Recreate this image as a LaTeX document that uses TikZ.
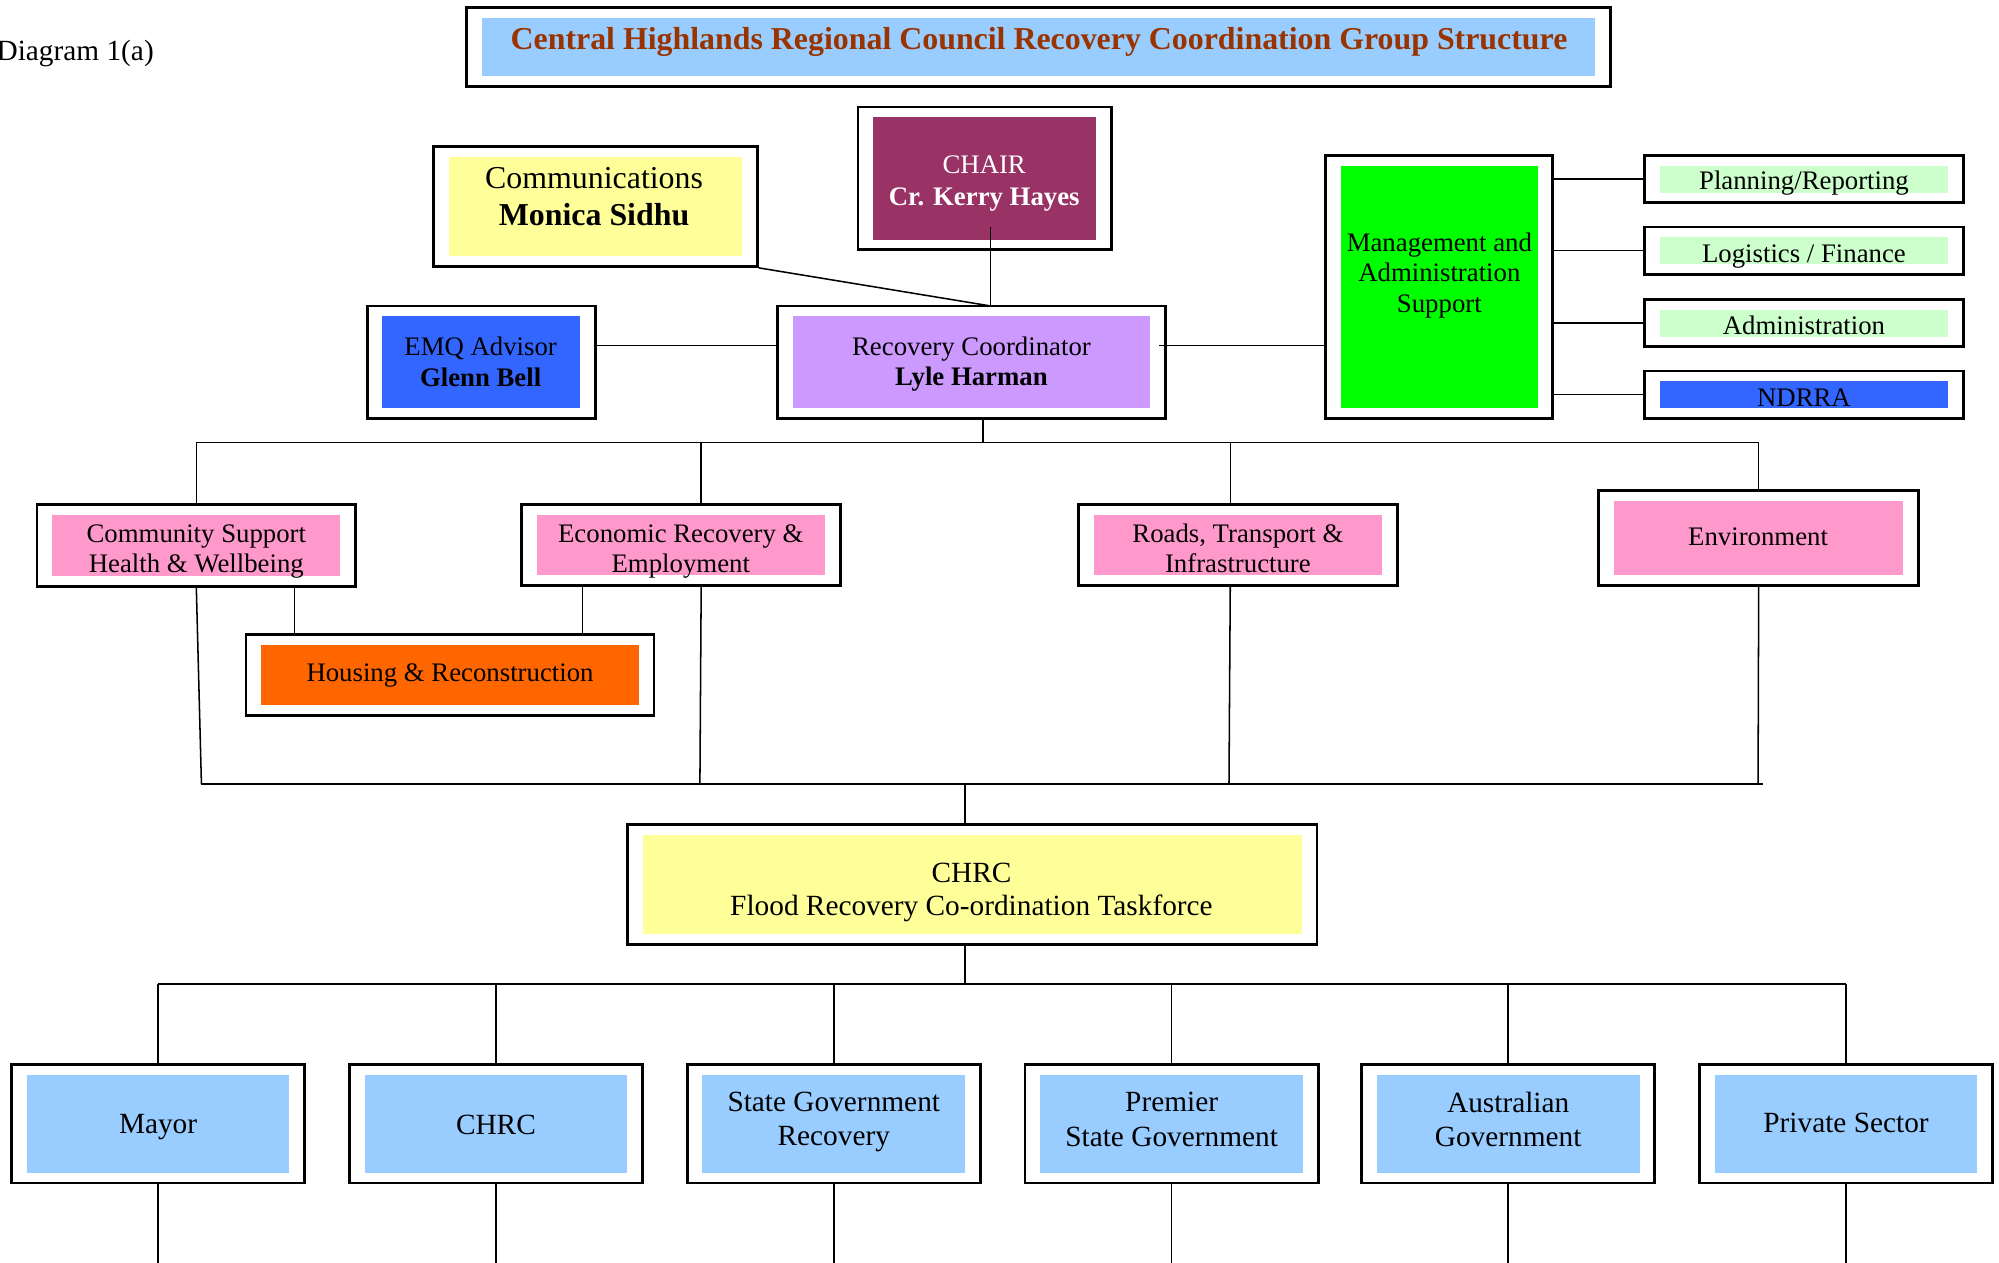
\documentclass[tikz,border=0pt]{standalone}
\usepackage{fontspec}
\setmainfont{Liberation Serif}
\usetikzlibrary{fit,calc}
\definecolor{titlered}{HTML}{993300}
\definecolor{lightblue}{HTML}{99CCFF}
\definecolor{chairc}{HTML}{993366}
\definecolor{paleyellow}{HTML}{FFFF99}
\definecolor{emqblue}{HTML}{3366FF}
\definecolor{lilac}{HTML}{CC99FF}
\definecolor{brightgreen}{HTML}{00FF00}
\definecolor{palegreen}{HTML}{CCFFCC}
\definecolor{pinkc}{HTML}{FF99CC}
\definecolor{orangec}{HTML}{FF6600}
\newcommand\obox[6]{%
  \node[outerbox, fit={(#2,#3)(#4,#5)}] (#1) {};
  \node[innerfill, fill=#6, fit={({#2+12},{#3+8})({#4-12},{#5-8})}] (#1-in) {};
}
\begin{document}
\begin{tikzpicture}[x=0.5pt, y=-0.5pt,
  outerbox/.style={draw=black, line width=1.1pt, fill=white, inner sep=0pt},
  innerfill/.style={draw=none, inner sep=0pt},
  conn/.style={draw=black, line width=0.6pt},
  txt/.style={align=center, inner sep=0pt, font=\fontsize{10.5}{11.5}\selectfont},
  txtb/.style={align=center, inner sep=0pt, font=\fontsize{11.5}{13.5}\selectfont}]
\useasboundingbox (0,0) rectangle (1568,990);

% Diagram label
\node[anchor=east, inner sep=0pt, font=\fontsize{11.5}{13}\selectfont] (diag) at (121,42) {Diagram 1(a)};

% title
\obox{title}{366}{6}{1263}{68}{lightblue}
\node[inner sep=0pt, font=\fontsize{12.5}{14}\selectfont\bfseries, text=titlered] (title-t) at (815,33)
  {Central Highlands Regional Council Recovery Coordination Group Structure};

% chair
\obox{chair}{673}{84}{872}{196}{chairc}
\node[txt, text=white, font=\fontsize{10.5}{12.5}\selectfont] (chair-t) at (772,144) {CHAIR\\\textbf{Cr. Kerry Hayes}};

% communications
\obox{comm}{340}{115}{594}{209}{paleyellow}
\node[txt, font=\fontsize{12.5}{14.5}\selectfont] (comm-t) at (466,154) {Communications\\\textbf{Monica Sidhu}};

% EMQ
\obox{emq}{288}{240}{467}{328}{emqblue}
\node[txt, font=\fontsize{10.5}{12}\selectfont] (emq-t) at (377,284) {EMQ Advisor\\\textbf{Glenn Bell}};

% Recovery coordinator
\obox{rc}{610}{240}{914}{328}{lilac}
\node[txt, font=\fontsize{10.5}{12}\selectfont] (rc-t) at (762,285.5) {Recovery Coordinator\\\textbf{Lyle Harman}};

% Management
\obox{mgmt}{1040}{122}{1218}{328}{brightgreen}
\node[txt, font=\fontsize{10.5}{12}\selectfont] (mgmt-t) at (1129,216) {Management and\\Administration\\Support};

% right column
\obox{plan}{1290}{122}{1540}{159}{palegreen}
\node[txt] (plan-t) at (1415,144) {Planning/Reporting};
\obox{logi}{1290}{178}{1540}{215}{palegreen}
\node[txt] (logi-t) at (1415,201) {Logistics / Finance};
\obox{admin}{1290}{235}{1540}{272}{palegreen}
\node[txt] (admin-t) at (1415,255) {Administration};
\obox{ndrra}{1290}{291}{1540}{328}{emqblue}
\node[txt] (ndrra-t) at (1415,312) {NDRRA};

% second tier
\obox{comsup}{29}{396}{279}{460}{pinkc}
\node[txt] (comsup-t) at (154,432.5) {Community Support\\Health \& Wellbeing};
\obox{econ}{409}{396}{659}{459}{pinkc}
\node[txt] (econ-t) at (534,432.5) {Economic Recovery \&\\Employment};
\obox{roads}{846}{396}{1096}{459}{pinkc}
\node[txt] (roads-t) at (971,430) {Roads, Transport \&\\Infrastructure};
\obox{env}{1254}{385}{1505}{459}{pinkc}
\node[txt] (env-t) at (1379,421) {Environment};
\obox{house}{193}{498}{513}{561}{orangec}
\node[txt] (house-t) at (353,530) {Housing \& Reconstruction};

% taskforce
\obox{tf}{492}{647}{1033}{741}{paleyellow}
\node[txtb, font=\fontsize{11.5}{13}\selectfont] (tf-t) at (762,700) {CHRC\\Flood Recovery Co-ordination Taskforce};

% bottom row
\obox{mayor}{9}{835}{239}{928}{lightblue}
\node[txtb] (mayor-t) at (124,884) {Mayor};
\obox{chrc}{274}{835}{504}{928}{lightblue}
\node[txtb] (chrc-t) at (389,882) {CHRC};
\obox{sgr}{539}{835}{769}{928}{lightblue}
\node[txtb] (sgr-t) at (654,880) {State Government\\Recovery};
\obox{prem}{804}{835}{1034}{928}{lightblue}
\node[txtb] (prem-t) at (919,878) {Premier\\State Government};
\obox{ausg}{1068}{835}{1298}{928}{lightblue}
\node[txtb] (ausg-t) at (1183,878) {Australian\\Government};
\obox{priv}{1333}{835}{1563}{928}{lightblue}
\node[txtb] (priv-t) at (1448,881) {Private Sector};

% helper coordinates
\coordinate (cj) at (777,240);
\coordinate (ct) at (777,178);
\coordinate (yemq) at (0,271);
\coordinate (rcd) at (771,328);
\coordinate (b1) at (0,347);
\coordinate (x550) at (550,0);
\coordinate (x965) at (965,0);
\coordinate (hx1) at (231,0);
\coordinate (hx2) at (457,0);
\coordinate (b2a) at (158,615);
\coordinate (b2b) at (549,615);
\coordinate (b2c) at (964,615);
\coordinate (b2d) at (1379,615);
\coordinate (b2e) at (1383,615);
\coordinate (x757) at (757,0);
\coordinate (b2) at (0,615);
\coordinate (b3) at (0,772);

% connectors (top)
\draw[conn] (comm.south east) -- (cj);
\draw[conn] (ct) -- (cj);
\draw[conn] (emq.east |- yemq) -- (rc.west |- yemq);
\draw[conn] ($(rc.east |- yemq)+(-6,0)$) -- (mgmt.west |- yemq);
\foreach \n in {plan,logi,admin,ndrra} \draw[conn] (mgmt.east |- \n.west) -- (\n.west);

% bus 1
\draw[conn] (rcd) -- (rcd |- b1);
\draw[conn] (comsup.north) -- (comsup.north |- b1) -- (env.north |- b1) -- (env.north);
\draw[conn] (x550 |- b1) -- (econ.north -| x550);
\draw[conn] (x965 |- b1) -- (roads.north -| x965);

% housing
\draw[conn] (comsup.south -| hx1) -- (house.north -| hx1);
\draw[conn] (econ.south -| hx2) -- (house.north -| hx2);

% bus 2
\draw[conn] (comsup.south) -- (b2a);
\draw[conn] (econ.south -| x550) -- (b2b);
\draw[conn] (roads.south -| x965) -- (b2c);
\draw[conn] (env.south) -- (b2d);
\draw[conn] (b2a) -- (b2e);
\draw[conn] (x757 |- b2) -- (tf.north -| x757);

% bus 3
\draw[conn] (tf.south -| x757) -- (x757 |- b3);
\draw[conn] (mayor.north |- b3) -- (priv.north |- b3);
\foreach \n in {mayor,chrc,sgr,prem,ausg,priv} {
  \draw[conn] (\n.north |- b3) -- (\n.north);
  \draw[conn] (\n.south) -- ++(0,70);
}
\end{tikzpicture}
\end{document}
